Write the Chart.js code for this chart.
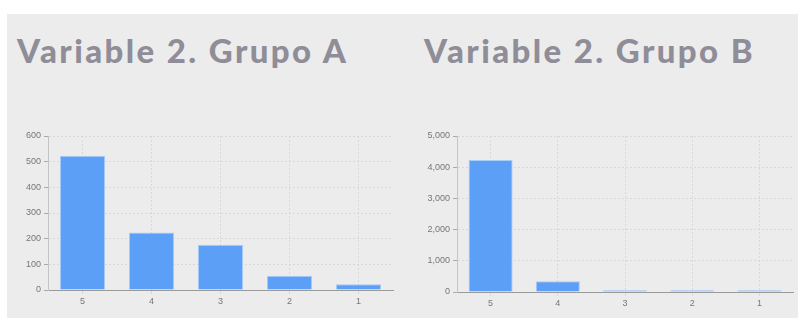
<!DOCTYPE html>
<html>
<head>
<meta charset="utf-8">
<script src="https://cdn.jsdelivr.net/npm/chart.js@4"></script>
<style>
  body { margin: 0; background: #fff; width: 798px; height: 318px; overflow: hidden; position: relative; }
  #fondo { position: absolute; left: 7px; top: 14px; width: 791px; height: 304px; background: #ececec; }
  .titulo { position: absolute; top: 30px; font-family: Lato, sans-serif; font-weight: 900; font-size: 33px; letter-spacing: 2.4px; color: #8f8d98; white-space: nowrap; }
  .caja { position: absolute; }
</style>
</head>
<body>
<div id="fondo"></div>
<div class="titulo" style="left:17px">Variable 2. Grupo A</div>
<div class="titulo" style="left:424px">Variable 2. Grupo B</div>
<div class="caja" style="left:0px; top:124px; width:398px; height:186px"><canvas id="graficaA"></canvas></div>
<div class="caja" style="left:400px; top:124px; width:398px; height:188px"><canvas id="graficaB"></canvas></div>
<script>
const categorias = ["5", "4", "3", "2", "1"];
const grupoA = [523, 224, 176, 56, 22];
const grupoB = [4230, 342, 60, 60, 60];
const maxA = 600, pasoA = 100;
const maxB = 5000, pasoB = 1000;

function generarGrafica(id, datos, maximo, paso, anchoEje, margenArriba) {
  new Chart(document.getElementById(id), {
    type: "bar",
    data: {
      labels: categorias,
      datasets: [{
        data: datos,
        backgroundColor: "#5c9ff7",
        borderColor: "#a9cbf8",
        borderWidth: 1,
        barPercentage: 0.82,
        categoryPercentage: 0.8
      }]
    },
    options: {
      responsive: true,
      maintainAspectRatio: false,
      animation: false,
      layout: { padding: { top: margenArriba, right: 5 } },
      plugins: { legend: { display: false }, tooltip: { enabled: false } },
      scales: {
        x: {
          afterFit: (s) => { s.height = 20; },
          grid: { offset: false, color: "#d8d8d8", tickColor: "#d8d8d8", tickLength: 4 },
          border: { color: "#9a9a9a", dash: [2, 2] },
          ticks: { color: "#777", font: { family: "Arial", size: 9 }, padding: 2 }
        },
        y: {
          min: 0, max: maximo,
          afterFit: (s) => { s.width = anchoEje; },
          grid: { color: "#d8d8d8", tickColor: "#aaa", tickLength: 4 },
          border: { color: "#c4c4c4", dash: [2, 2] },
          ticks: { stepSize: paso, color: "#777", font: { family: "Arial", size: 9 }, padding: 3 }
        }
      }
    }
  });
}

generarGrafica("graficaA", grupoA, maxA, pasoA, 48, 12);
generarGrafica("graficaB", grupoB, maxB, pasoB, 57, 12);
</script>
</body>
</html>
